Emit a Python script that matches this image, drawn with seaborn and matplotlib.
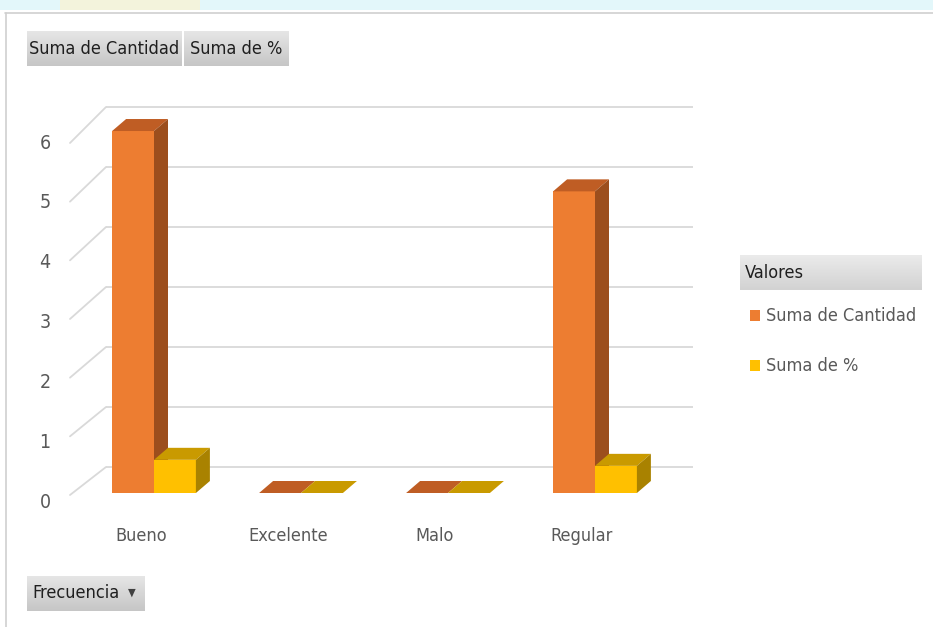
import numpy as np
import pandas as pd
import matplotlib
matplotlib.use("Agg")
import matplotlib.pyplot as plt
import seaborn as sns
from matplotlib.patches import Polygon, Rectangle
from matplotlib.colors import LinearSegmentedColormap

# ---------------- data ----------------
categories = ["Bueno", "Excelente", "Malo", "Regular"]
suma_cantidad = [6, 0, 0, 5]
suma_pct = [0.55, 0, 0, 0.45]
series = ["Suma de Cantidad", "Suma de %"]
y_ticks = [0, 1, 2, 3, 4, 5, 6]
legend_title = "Valores"
filter_label = "Frecuencia"

# ---------------- style ----------------
sns.set_style("white")
plt.rcParams['font.family'] = ['DejaVu Sans']
plt.rcParams['font.stretch'] = 'condensed'

W, H = 933, 627
fig = plt.figure(figsize=(W / 100, H / 100), dpi=100)
fig.patch.set_facecolor("white")

front_cols = ["#ED7D31", "#FFC000"]
top_cols = ["#BF5D24", "#C99A00"]
side_cols = ["#9C4E1D", "#A98200"]
text_col = "#595959"
grid_col = "#D9D9D9"

# pixel geometry of the plot area
X0, SX = 154.0, 147.0     # px of category 0 centre, px per category
Y0, SY = 493.0, 60.33     # px of value 0 (bar front base), px per unit
L, R, T, B = 40, 730, 90, 545

def xd(px):
    return (px - X0) / SX

def yd(py):
    return (Y0 - py) / SY

ax = fig.add_axes([L / W, 1 - B / H, (R - L) / W, (B - T) / H])

df = pd.DataFrame({
    "Categoria": categories * 2,
    "Serie": [series[0]] * len(categories) + [series[1]] * len(categories),
    "Valor": suma_cantidad + suma_pct,
})

sns.barplot(data=df, x="Categoria", y="Valor", hue="Serie", hue_order=series,
            order=categories, palette=front_cols, saturation=1, width=0.57,
            ax=ax, legend=False, linewidth=0, errorbar=None)

ax.set_xlim(xd(L), xd(R))
ax.set_ylim(yd(B), yd(T))
ax.axis("off")

# 3D faces derived from the drawn bars
dx = 14 / SX
dy = 12 / SY
n = len(categories)
for k, p in enumerate(list(ax.patches)):
    s = k // n
    x, y = p.get_x(), p.get_y()
    w, h = p.get_width(), p.get_height()
    z = 3 + s
    p.set_zorder(z)
    top = Polygon([(x, y + h), (x + w, y + h), (x + w + dx, y + h + dy), (x + dx, y + h + dy)],
                  closed=True, facecolor=top_cols[s], edgecolor="none", zorder=z)
    ax.add_patch(top)
    if h > 0:
        side = Polygon([(x + w, y), (x + w + dx, y + dy), (x + w + dx, y + h + dy), (x + w, y + h)],
                       closed=True, facecolor=side_cols[s], edgecolor="none", zorder=z)
        ax.add_patch(side)

# back wall gridlines and side wall diagonals
for v in y_ticks:
    yb = yd(467 - 60.0 * v)
    ax.plot([xd(106), xd(693)], [yb, yb], color=grid_col, lw=1.3, zorder=1,
            solid_capstyle="butt")
    yf = yd(495 - 58.67 * v)
    ax.plot([xd(70), xd(106)], [yf, yb], color=grid_col, lw=1.3, zorder=1)
    ax.text(xd(45), yd(502 - 59.8 * v), str(v), ha="center", va="center",
            fontsize=14, color=text_col)

for i, c in enumerate(categories):
    ax.text(i - 13 / SX, yd(536), c, ha="center", va="center",
            fontsize=13, color=text_col)

# ---------------- frame / decorations ----------------
deco = fig.add_axes([0, 0, 1, 1], zorder=-5)
deco.set_xlim(0, W)
deco.set_ylim(H, 0)
deco.axis("off")
deco.add_patch(Rectangle((0, 0), W, 10, facecolor="#E3F7FA", edgecolor="none"))
deco.add_patch(Rectangle((60, 0), 140, 10, facecolor="#F3F3DC", edgecolor="none"))
deco.plot([5, W], [12.5, 12.5], color="#CFCFCF", lw=1.2)
deco.plot([5.5, 5.5], [12.5, H], color="#CFCFCF", lw=1.2)

grad_cmap = LinearSegmentedColormap.from_list("g", ["#E6E6E6", "#C6C6C6"])
grad_cmap2 = LinearSegmentedColormap.from_list("g2", ["#EBEBEB", "#D2D2D2"])

def button(x0, y0, x1, y1, label, cmap, tx=None, fs=13):
    bax = fig.add_axes([x0 / W, 1 - y1 / H, (x1 - x0) / W, (y1 - y0) / H], zorder=5)
    grad = np.linspace(0, 1, 64).reshape(-1, 1)
    bax.imshow(grad, aspect="auto", cmap=cmap, extent=[0, 1, 0, 1], origin="upper")
    bax.set_xlim(0, 1)
    bax.set_ylim(0, 1)
    bax.axis("off")
    px = 0.5 if tx is None else (tx - x0) / (x1 - x0)
    bax.text(px, 0.5, label, ha="center" if tx is None else "left", va="center",
             fontsize=fs, color="#1F1F1F")
    return bax

button(27, 31, 182, 66, series[0], grad_cmap)
button(184, 31, 289, 66, series[1], grad_cmap)
fb = button(27, 576, 145, 611, filter_label, grad_cmap, tx=32)
fb.text((132 - 27) / (145 - 27), 0.52, "\u25BC", ha="center", va="center",
        fontsize=8, color="#404040")
button(740, 255, 922, 290, legend_title, grad_cmap2, tx=745)

# legend entries
for s, (lab, yy) in enumerate(zip(series, [316, 366])):
    deco.add_patch(Rectangle((750, yy - 6), 10, 11, facecolor=front_cols[s], edgecolor="none"))
    deco.text(766, yy, lab, ha="left", va="center", fontsize=13, color=text_col)

fig.savefig("out.png", dpi=100, facecolor="white")
